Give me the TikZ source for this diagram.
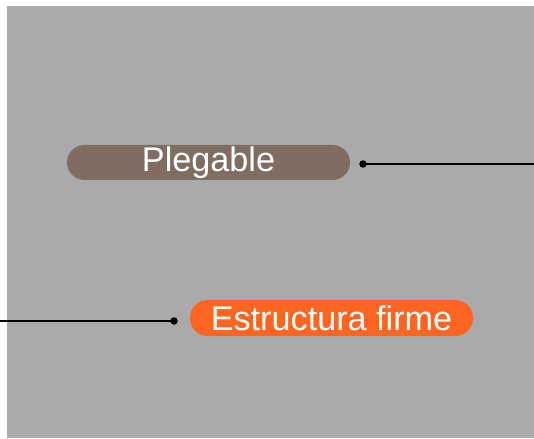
\documentclass[tikz,border=0pt]{standalone}
\usepackage{fontspec}
\setmainfont{Liberation Sans}
\definecolor{bggray}{HTML}{A9AAAB}
\definecolor{pbrown}{HTML}{7F6D61}
\definecolor{porange}{HTML}{FF6520}
\tikzset{
  pill/.style={rounded corners=17.5pt, minimum width=283pt, minimum height=35pt, inner sep=0pt, text=white, font=\fontsize{34.2}{38}\selectfont},
  conn/.style={line width=2pt, black},
  dotmark/.style={circle, fill=black, inner sep=0pt, minimum size=7.5pt}
}
\begin{document}
\begin{tikzpicture}[x=1pt,y=-1pt]
\useasboundingbox (0,0) rectangle (534,438);
\fill[white] (0,0) rectangle (534,438);
\fill[bggray] (7,6) rectangle (534,438);
\node[pill, fill=pbrown] (pleg) at (208.5,162.5) {Plegable};
\node[pill, fill=porange, minimum height=36pt] (estr) at (331.5,318) {Estructura firme};
\node[dotmark] (d1) at (363,164) {};
\coordinate (e1) at (534,164);
\node[dotmark] (d2) at (174,321) {};
\coordinate (e2) at (0,321);
\draw[conn] (d1.center) -- (e1);
\draw[conn] (d2.center) -- (e2);
\end{tikzpicture}
\end{document}
